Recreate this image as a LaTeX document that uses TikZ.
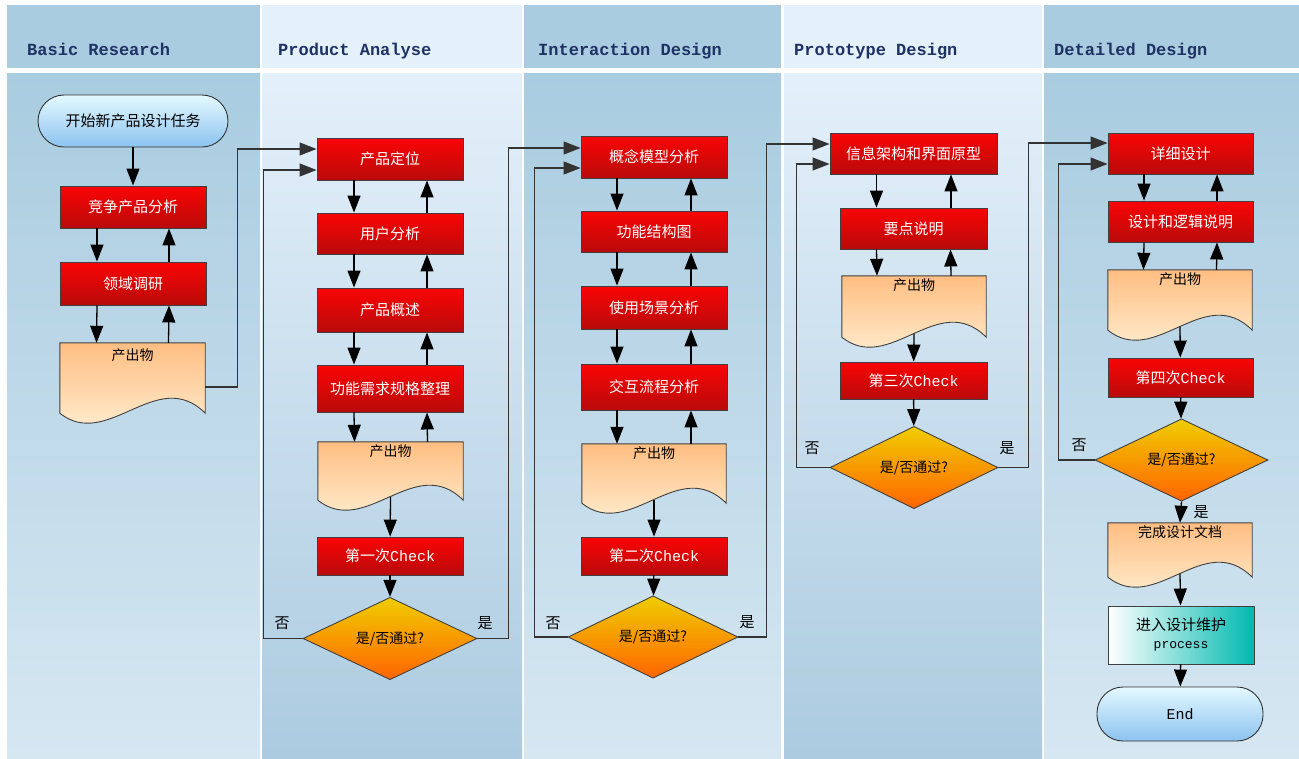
\documentclass[tikz,border=0pt]{standalone}
\usepackage{fontspec}
\setmonofont{Liberation Mono}
\newfontfamily\cjk{Noto Sans CJK SC}
\newfontfamily\hdrfont{Liberation Mono}
\usetikzlibrary{shapes.geometric,arrows.meta}
\definecolor{hdark}{RGB}{169,204,224}
\definecolor{hlight}{RGB}{228,240,250}
\definecolor{bodylow}{RGB}{214,231,242}
\definecolor{bodydeep}{RGB}{172,203,224}
\definecolor{hdrtext}{RGB}{30,50,100}
\definecolor{rtop}{RGB}{250,4,4}
\definecolor{rbot}{RGB}{185,10,10}
\definecolor{dtop}{RGB}{255,190,130}
\definecolor{dbot}{RGB}{255,248,225}
\definecolor{ytop}{RGB}{240,205,0}
\definecolor{ybot}{RGB}{255,100,0}
\definecolor{ttop}{RGB}{228,249,255}
\definecolor{tbot}{RGB}{140,195,240}
\definecolor{teal}{RGB}{0,185,175}
\newcommand\docshape[1]{%
  \path[draw=black!75, line width=0.9pt, top color=dtop, bottom color=dbot]
  (#1.north west) -- (#1.north east) -- ([yshift=10pt]#1.south east)
  .. controls ([xshift=-48pt,yshift=58pt]#1.south east) and ([xshift=48pt,yshift=-28pt]#1.south west) ..
  ([yshift=10pt]#1.south west) -- cycle;}
\begin{document}
\begin{tikzpicture}[x=1pt,y=-1pt,
  hdr/.style={anchor=base west, inner sep=0pt, text=hdrtext, font=\hdrfont\bfseries\fontsize{17}{20}\selectfont},
  redbox/.style={rectangle, draw=black!75, line width=0.9pt, top color=rtop, bottom color=rbot,
    minimum width=146pt, minimum height=42pt, inner sep=0pt, text=white, font=\cjk\fontsize{15}{18}\selectfont},
  docnode/.style={rectangle, minimum width=145pt, inner sep=0pt},
  doctext/.style={inner sep=0pt, anchor=north, text=black, font=\cjk\fontsize{14}{16}\selectfont},
  decision/.style={diamond, draw=black!75, line width=0.9pt, top color=ytop, bottom color=ybot,
    inner sep=0pt, text=black, font=\cjk\fontsize{14}{16}\selectfont},
  term/.style={rectangle, rounded corners=26pt, draw=black!80, line width=0.9pt, top color=ttop, bottom color=tbot,
    inner sep=0pt, text=black, font=\cjk\fontsize{15}{18}\selectfont},
  yn/.style={inner sep=0pt, text=black, font=\cjk\fontsize{15}{18}\selectfont},
  arr/.style={draw=black, line width=1.3pt, -{Triangle[length=17pt,width=13pt]}},
  conn/.style={draw=black!80, line width=1.2pt, -{Triangle[length=17pt,width=13pt]}}
]
\useasboundingbox (0,0) rectangle (1299,758);
\fill[white] (0,0) rectangle (1299,758);
% headers
\fill[hdark]  (7,5) rectangle (260,68);
\fill[hlight] (262,5) rectangle (522,68);
\fill[hdark]  (524,5) rectangle (781,68);
\fill[hlight] (784,5) rectangle (1042,68);
\fill[hdark]  (1044,5) rectangle (1299,68);
% bodies
\shade[top color=hdark, bottom color=bodylow]   (7,73) rectangle (260,758);
\shade[top color=hlight, bottom color=bodydeep] (262,73) rectangle (522,758);
\shade[top color=hdark, bottom color=bodylow]   (524,73) rectangle (781,758);
\shade[top color=hlight, bottom color=bodydeep] (784,73) rectangle (1042,758);
\shade[top color=hdark, bottom color=bodylow]   (1044,73) rectangle (1299,758);
\node[hdr] (h1) at (27,55) {Basic Research};
\node[hdr] (h2) at (278,55) {Product Analyse};
\node[hdr] (h3) at (538,55) {Interaction Design};
\node[hdr] (h4) at (794,55) {Prototype Design};
\node[hdr] (h5) at (1054,55) {Detailed Design};

% ---------- column 1
\node[term, minimum width=190pt, minimum height=52pt] (start) at (133,121) {开始新产品设计任务};
\node[redbox] (a1) at (133,207) {竞争产品分析};
\node[redbox, minimum height=43pt] (a2) at (133,283.5) {领域调研};
\node[docnode, minimum height=80pt] (doc1) at (132.5,383) {};
\docshape{doc1}
\node[doctext] (doc1t) at ([yshift=-6pt]doc1.north) {产出物};
\draw[arr] (start) -- (a1);
\draw[arr] ([xshift=-36pt]a1.south) -- ([xshift=-36pt]a2.north);
\draw[arr] ([xshift=36pt]a2.north) -- ([xshift=36pt]a1.south);
\draw[arr] ([xshift=-36pt]a2.south) -- ([xshift=-36pt]doc1.north);
\draw[arr] ([xshift=36pt]doc1.north) -- ([xshift=36pt]a2.south);

% ---------- column 2
\node[redbox] (b1) at (390,159) {产品定位};
\node[redbox, minimum height=41pt] (b2) at (390,233.5) {用户分析};
\node[redbox, minimum height=44pt] (b3) at (390,310) {产品概述};
\node[redbox, minimum height=47pt] (b4) at (390,388.5) {功能需求规格整理};
\node[docnode, minimum height=68pt] (doc2) at (390.5,476) {};
\docshape{doc2}
\node[doctext] (doc2t) at ([yshift=-3pt]doc2.north) {产出物};
\node[redbox, minimum height=38pt] (chk1) at (390,556) {第一次{\ttfamily Check}};
\node[decision, minimum width=174pt, minimum height=73pt] (dia1) at (390,638.5) {是/否通过?};
\draw[arr] ([xshift=-36pt]b1.south) -- ([xshift=-36pt]b2.north);
\draw[arr] ([xshift=37pt]b2.north) -- ([xshift=37pt]b1.south);
\draw[arr] ([xshift=-36pt]b2.south) -- ([xshift=-36pt]b3.north);
\draw[arr] ([xshift=37pt]b3.north) -- ([xshift=37pt]b2.south);
\draw[arr] ([xshift=-36pt]b3.south) -- ([xshift=-36pt]b4.north);
\draw[arr] ([xshift=37pt]b4.north) -- ([xshift=37pt]b3.south);
\draw[arr] ([xshift=-36pt]b4.south) -- ([xshift=-36pt]doc2.north);
\draw[arr] ([xshift=37pt]doc2.north) -- ([xshift=37pt]b4.south);
\draw[arr] ([yshift=13.5pt]doc2.south) -- (chk1);
\draw[arr] (chk1) -- (dia1);
\draw[conn] ([yshift=-4pt]doc1.east) -- ++(32,0) |- ([yshift=10pt]b1.west);
\draw[conn] (dia1.west) -- ++(-39,0) |- ([yshift=-11pt]b1.west);
\node[yn] (n1) at (282,623) {否};
\node[yn] (y1) at (485,623) {是};

% ---------- column 3
\node[redbox] (c1) at (654,157) {概念模型分析};
\node[redbox, minimum height=41pt] (c2) at (654,231.5) {功能结构图};
\node[redbox, minimum height=43pt] (c3) at (654,307.5) {使用场景分析};
\node[redbox, minimum height=46pt] (c4) at (654,387) {交互流程分析};
\node[docnode, minimum width=144pt, minimum height=69pt] (doc3) at (654,478.5) {};
\docshape{doc3}
\node[doctext] (doc3t) at ([yshift=-3pt]doc3.north) {产出物};
\node[redbox, minimum height=38pt] (chk2) at (654,556) {第二次{\ttfamily Check}};
\node[decision, minimum width=170pt, minimum height=72pt] (dia2) at (653,637) {是/否通过?};
\draw[arr] ([xshift=-37pt]c1.south) -- ([xshift=-37pt]c2.north);
\draw[arr] ([xshift=37pt]c2.north) -- ([xshift=37pt]c1.south);
\draw[arr] ([xshift=-37pt]c2.south) -- ([xshift=-37pt]c3.north);
\draw[arr] ([xshift=37pt]c3.north) -- ([xshift=37pt]c2.south);
\draw[arr] ([xshift=-37pt]c3.south) -- ([xshift=-37pt]c4.north);
\draw[arr] ([xshift=37pt]c4.north) -- ([xshift=37pt]c3.south);
\draw[arr] ([xshift=-37pt]c4.south) -- ([xshift=-37pt]doc3.north);
\draw[arr] ([xshift=37pt]doc3.north) -- ([xshift=37pt]c4.south);
\draw[arr] ([yshift=13.5pt]doc3.south) -- (chk2);
\draw[arr] (chk2) -- (dia2);
\draw[conn] (dia1.east) -- ++(31,0) |- ([yshift=9pt]c1.west);
\draw[conn] (dia2.west) -- ++(-33,0) |- ([yshift=-11pt]c1.west);
\node[yn] (n2) at (553,623) {否};
\node[yn] (y2) at (747,622) {是};

% ---------- column 4
\node[redbox, minimum width=167pt, minimum height=41pt] (d1) at (913.5,153.5) {信息架构和界面原型};
\node[redbox, minimum width=147pt, minimum height=41pt] (d2) at (913.5,228.5) {要点说明};
\node[docnode, minimum width=144pt, minimum height=71pt] (doc4) at (914,311.5) {};
\docshape{doc4}
\node[doctext] (doc4t) at ([yshift=-3pt]doc4.north) {产出物};
\node[redbox, minimum width=147pt, minimum height=37pt] (chk3) at (913.5,380.5) {第三次{\ttfamily Check}};
\node[decision, minimum width=168pt, minimum height=75pt] (dia3) at (914,467.5) {是/否通过?};
\draw[arr] ([xshift=-37pt]d1.south) -- ([xshift=-37pt]d2.north);
\draw[arr] ([xshift=37.5pt]d2.north) -- ([xshift=37.5pt]d1.south);
\draw[arr] ([xshift=-37pt]d2.south) -- ([xshift=-37pt]doc4.north);
\draw[arr] ([xshift=37pt]doc4.north) -- ([xshift=37pt]d2.south);
\draw[arr] ([yshift=13.5pt]doc4.south) -- (chk3);
\draw[arr] (chk3) -- (dia3);
\draw[conn] (dia2.east) -- ++(28,0) |- ([yshift=9.5pt]d1.west);
\draw[conn] (dia3.west) -- ++(-33,0) |- ([yshift=-10.5pt]d1.west);
\node[yn] (n3) at (812,448) {否};
\node[yn] (y3) at (1007,448) {是};

% ---------- column 5
\node[redbox, minimum width=145pt, minimum height=41pt] (e1) at (1180.5,153.5) {详细设计};
\node[redbox, minimum width=145pt, minimum height=41pt] (e2) at (1180.5,221.5) {设计和逻辑说明};
\node[docnode, minimum width=144pt, minimum height=70pt] (doc5) at (1180,305) {};
\docshape{doc5}
\node[doctext] (doc5t) at ([yshift=-3pt]doc5.north) {产出物};
\node[redbox, minimum width=145pt, minimum height=39pt] (chk4) at (1180.5,377.5) {第四次{\ttfamily Check}};
\node[decision, minimum width=173pt, minimum height=80pt] (dia4) at (1181.5,460) {是/否通过?};
\node[docnode, minimum width=144pt, minimum height=64pt] (done) at (1180,555) {};
\docshape{done}
\node[doctext] (donet) at ([yshift=-3pt]done.north) {完成设计文档};
\node[rectangle, draw=black!75, line width=0.9pt, left color=white, right color=teal,
  minimum width=146pt, minimum height=58pt, inner sep=0pt, align=center, text=black,
  font=\cjk\fontsize{15}{19}\selectfont] (proc) at (1181,635) {进入设计维护\\[-1pt]{\ttfamily\fontsize{13}{15}\selectfont process}};
\node[term, minimum width=166pt, minimum height=54pt, font=\ttfamily\fontsize{15}{18}\selectfont] (endn) at (1180,714) {End};
\draw[arr] ([xshift=-36.5pt]e1.south) -- ([xshift=-36.5pt]e2.north);
\draw[arr] ([xshift=36.5pt]e2.north) -- ([xshift=36.5pt]e1.south);
\draw[arr] ([xshift=-36.5pt]e2.south) -- ([xshift=-36.5pt]doc5.north);
\draw[arr] ([xshift=36.5pt]doc5.north) -- ([xshift=36.5pt]e2.south);
\draw[arr] ([yshift=13.5pt]doc5.south) -- (chk4);
\draw[arr] (chk4) -- (dia4);
\draw[arr] (dia4.south) -- (done.north);
\draw[arr] ([yshift=13.5pt]done.south) -- (proc);
\draw[arr] (proc) -- (endn);
\draw[conn] (dia3.east) -- ++(30,0) |- ([yshift=10.5pt]e1.west);
\draw[conn] (dia4.west) -- ++(-36,0) |- ([yshift=-10.5pt]e1.west);
\node[yn] (n4) at (1079,445) {否};
\node[yn] (y4) at (1201,512) {是};
\end{tikzpicture}
\end{document}
